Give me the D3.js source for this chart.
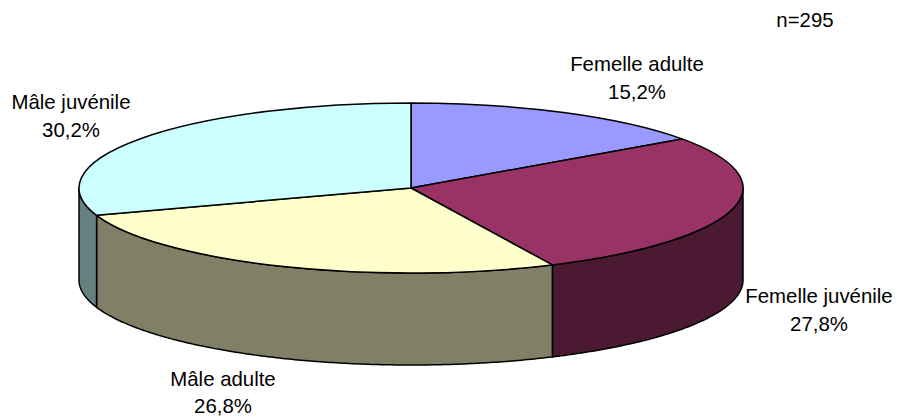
<!DOCTYPE html>
<html>
<head>
<meta charset="utf-8">
<script src="https://d3js.org/d3.v7.min.js"></script>
<style>
  html, body { margin: 0; padding: 0; background: #fff; }
  svg { display: block; }
  text { font-family: "Liberation Sans", Arial, sans-serif; font-size: 20.4px; fill: #000; text-anchor: middle; }
</style>
</head>
<body>
<svg id="chart" width="897" height="420"></svg>
<script>
const categories = ['Femelle adulte', 'Femelle juvénile', 'Mâle adulte', 'Mâle juvénile'];
const values = [15.2, 27.8, 26.8, 30.2];
const sampleLabel = 'n=295';

const topColors = ['#9999ff', '#993366', '#ffffcc', '#ccffff'];
const sideColors = ['#4c4c80', '#4c1933', '#808066', '#668080'];

// where the label blocks sit (centre x, first baseline)
const labelSpots = [[637, 71], [819, 303], [223, 385.5], [71, 109]];

const cx = 411, cy = 188, rx = 332, ry = 85, depth = 92;

const svg = d3.select('#chart');
const slices = d3.pie().sort(null)(values);

// projected ellipse: angle runs clockwise from the top
const px = a => cx + rx * Math.sin(a);
const py = a => cy - ry * Math.cos(a);

// side walls, only the front half of the disc shows
const side = d3.area()
  .x(px)
  .y0(py)
  .y1(a => py(a) + depth);

const front = [Math.PI / 2, Math.PI * 1.5];
slices.forEach((d, i) => {
  const a0 = Math.max(d.startAngle, front[0]);
  const a1 = Math.min(d.endAngle, front[1]);
  if (a1 <= a0) return;
  const steps = Math.ceil((a1 - a0) / 0.01);
  const angles = d3.range(steps + 1).map(k => a0 + (a1 - a0) * k / steps);
  svg.append('path')
    .attr('d', side(angles))
    .attr('fill', sideColors[i])
    .attr('stroke', '#000')
    .attr('stroke-width', 1.5)
    .attr('stroke-linejoin', 'round');
});

// top face is a normal d3 arc squashed to the ellipse
const arc = d3.arc().innerRadius(0).outerRadius(rx);
svg.append('g')
  .attr('transform', `translate(${cx},${cy}) scale(1,${ry / rx})`)
  .selectAll('path')
  .data(slices)
  .enter().append('path')
  .attr('d', arc)
  .attr('fill', (d, i) => topColors[i])
  .attr('stroke', '#000')
  .attr('stroke-width', 1.5)
  .attr('stroke-linejoin', 'round')
  .attr('vector-effect', 'non-scaling-stroke');

categories.forEach((name, i) => {
  const [x, y] = labelSpots[i];
  svg.append('text').attr('x', x).attr('y', y).text(name);
  svg.append('text').attr('x', x).attr('y', y + 27.5)
    .text(values[i].toFixed(1).replace('.', ',') + '%');
});

svg.append('text').attr('x', 805).attr('y', 26.5).text(sampleLabel);
</script>
</body>
</html>
